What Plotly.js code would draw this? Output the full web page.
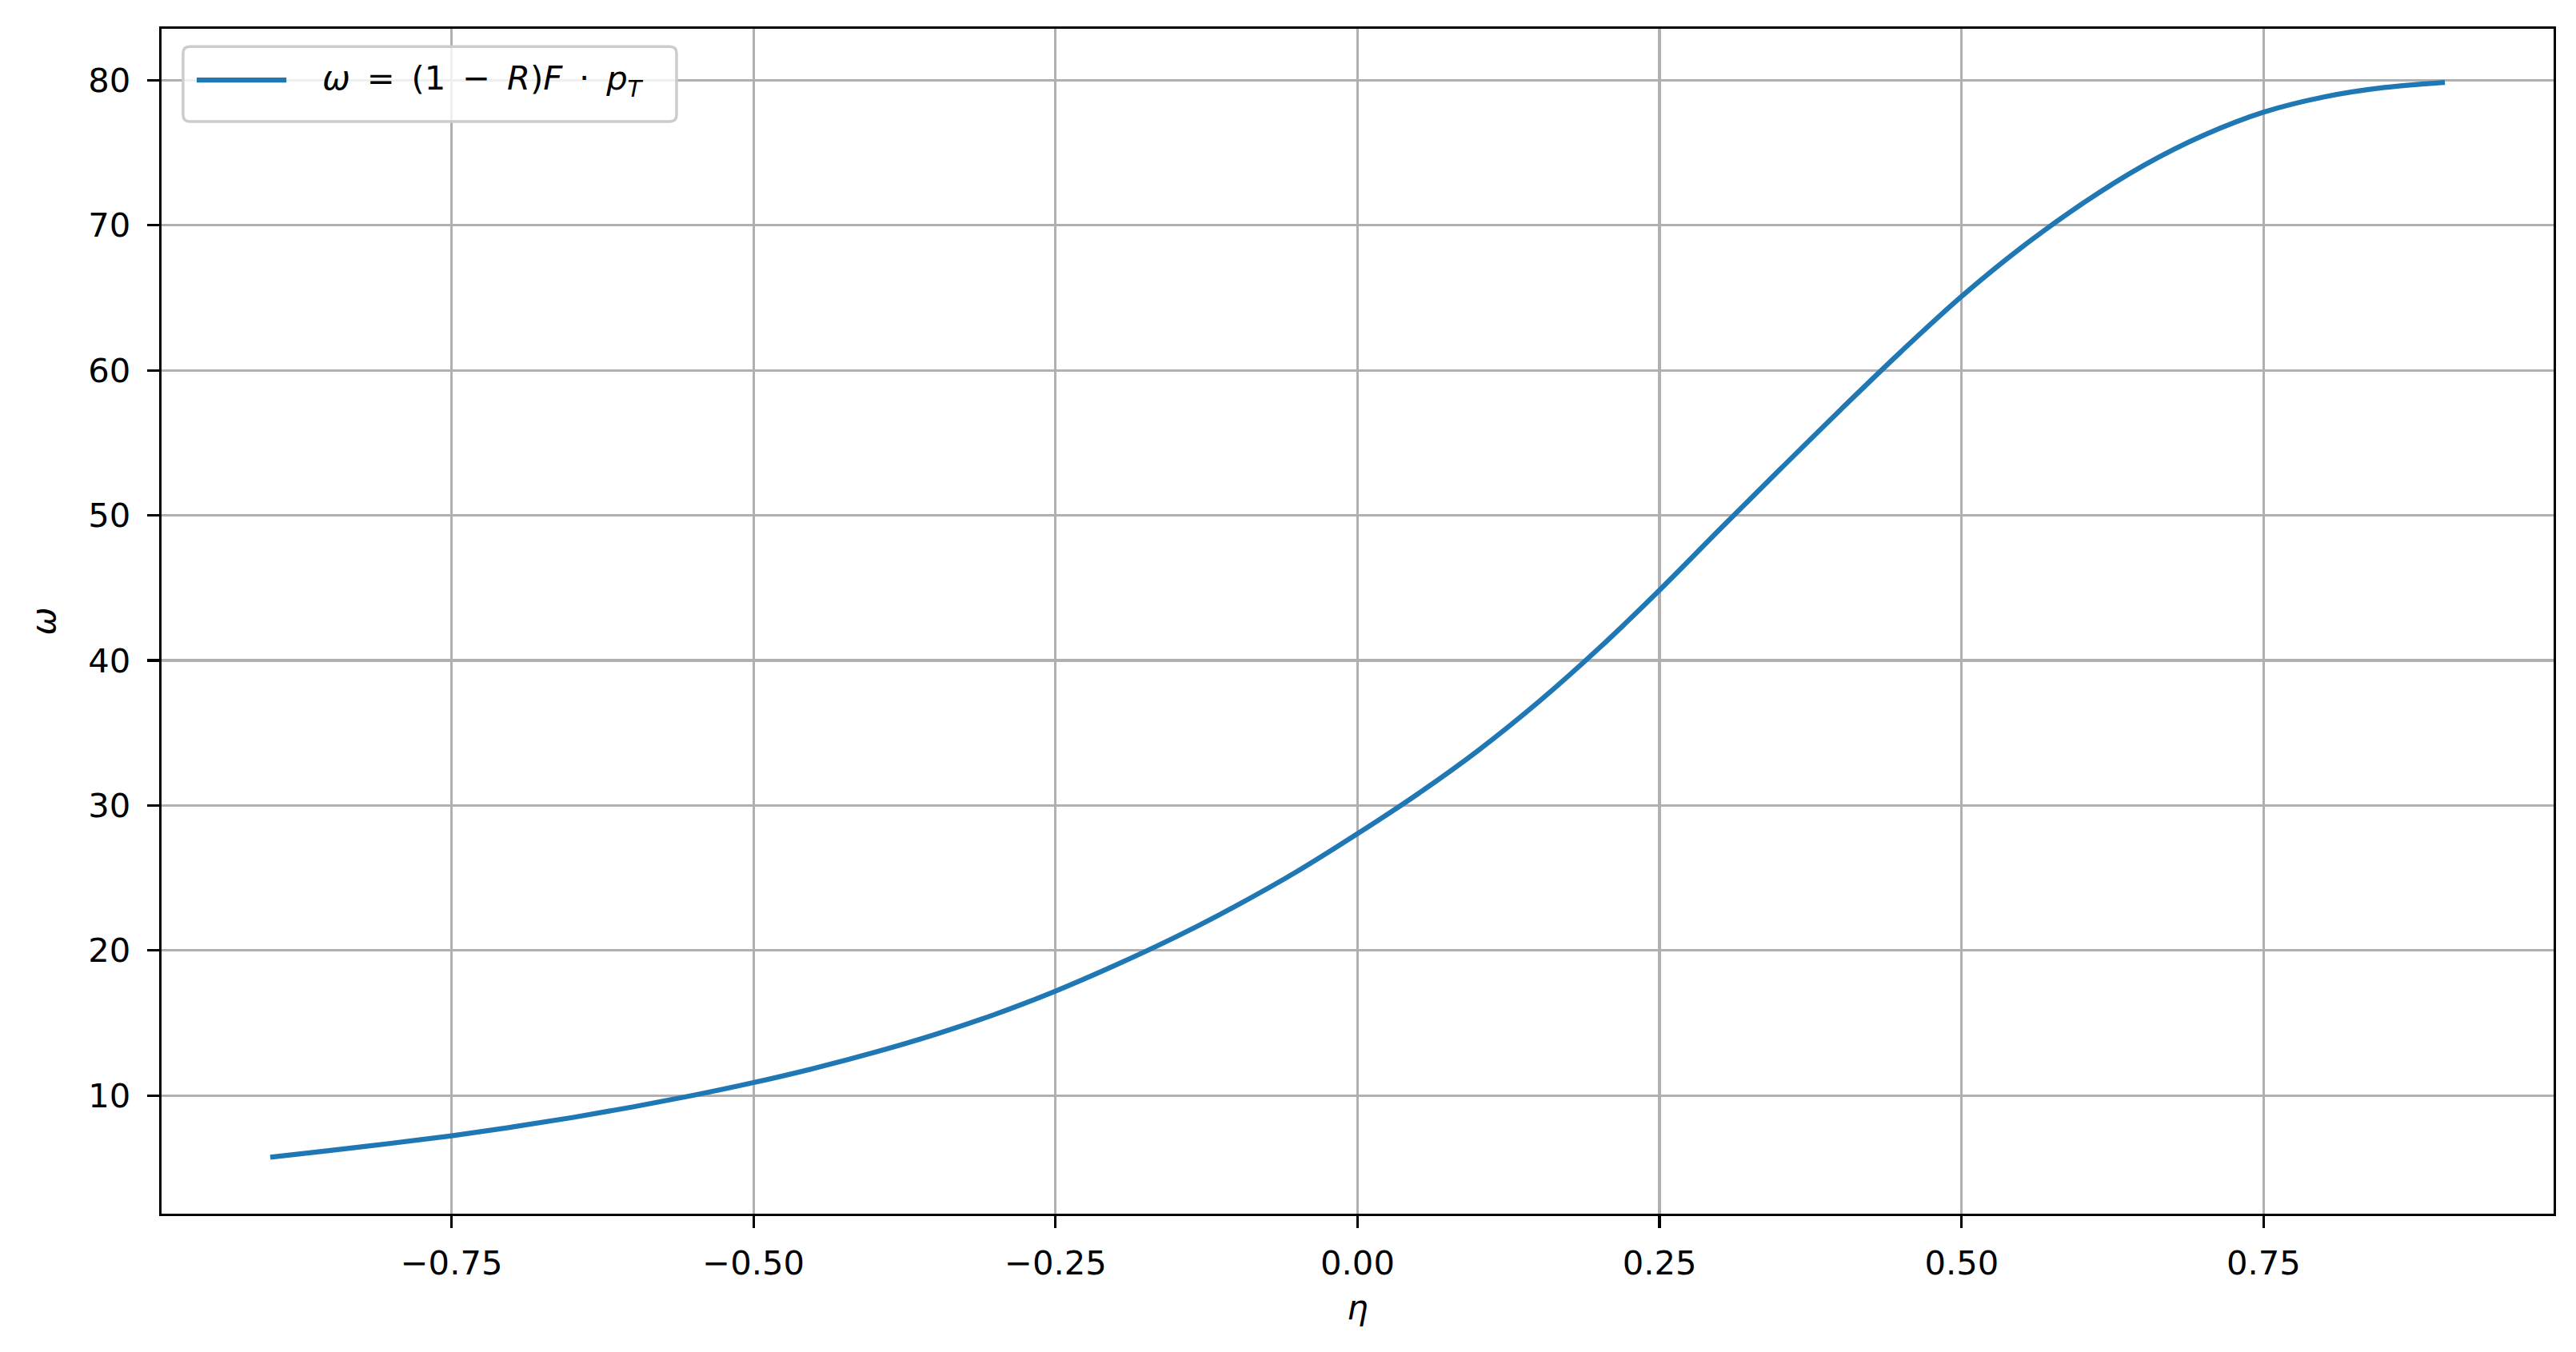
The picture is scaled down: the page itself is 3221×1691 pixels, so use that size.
<!DOCTYPE html>
<html>
<head>
<meta charset="utf-8">
<script src="https://cdn.plot.ly/plotly-3.0.1.min.js"></script>
<style>
  html, body { margin: 0; padding: 0; background: #ffffff; }
  #chart { width: 3221px; height: 1691px; }
</style>
</head>
<body>
<div id="chart"></div>
<script>
// ---- data ----
const eta = [-0.90, -0.85, -0.80, -0.75, -0.70, -0.65, -0.60, -0.55, -0.50, -0.45,
             -0.40, -0.35, -0.30, -0.25, -0.20, -0.15, -0.10, -0.05, 0.00, 0.05,
              0.10, 0.15, 0.20, 0.25, 0.30, 0.35, 0.40, 0.45, 0.50, 0.55,
              0.60, 0.65, 0.70, 0.75, 0.80, 0.85, 0.90];
const omega = [5.74, 6.21, 6.70, 7.22, 7.82, 8.48, 9.21, 10.01, 10.89, 11.87,
               12.97, 14.2, 15.6, 17.2, 19.0, 20.95, 23.1, 25.45, 28.05, 30.8,
               33.8, 37.15, 40.85, 44.85, 49.05, 53.2, 57.3, 61.3, 65.1, 68.5,
               71.5, 74.1, 76.2, 77.8, 78.85, 79.5, 79.85];
const xTickVals = [-0.75, -0.50, -0.25, 0.00, 0.25, 0.50, 0.75];
const xTickText = ['\u22120.75', '\u22120.50', '\u22120.25', '0.00', '0.25', '0.50', '0.75'];
const yTickVals = [10, 20, 30, 40, 50, 60, 70, 80];
const yTickText = ['10', '20', '30', '40', '50', '60', '70', '80'];
const seriesName = '<i>\u03c9</i>\u2002=\u2002(1\u2002\u2212\u2002<i>R</i>)<i>F</i>\u2002\u00b7\u2002<i>p</i><sub><i>T</i></sub>';

const FONT = 'DejaVu Sans, Liberation Sans, sans-serif';
const FS = 41.7;
const BLUE = '#1f77b4';

const trace = {
  x: eta, y: omega, type: 'scatter', mode: 'lines',
  name: seriesName, showlegend: false,
  line: { color: BLUE, width: 6.25, shape: 'spline', smoothing: 1.0 }
};

// legend box (drawn by hand to mimic matplotlib legend)
const bx0 = 0.009, bx1 = 0.2153, by0 = 0.9217, by1 = 0.985;
const rx = 0.0028, ry = 0.0057;
const boxPath = `M ${bx0+rx},${by0} L ${bx1-rx},${by0} Q ${bx1},${by0} ${bx1},${by0+ry} ` +
                `L ${bx1},${by1-ry} Q ${bx1},${by1} ${bx1-rx},${by1} L ${bx0+rx},${by1} ` +
                `Q ${bx0},${by1} ${bx0},${by1-ry} L ${bx0},${by0+ry} Q ${bx0},${by0} ${bx0+rx},${by0} Z`;

const layout = {
  width: 3221, height: 1691,
  paper_bgcolor: '#ffffff', plot_bgcolor: '#ffffff',
  margin: { l: 202, r: 28, t: 36, b: 173, pad: 0 },
  font: { family: FONT, size: FS, color: '#000000' },
  showlegend: false,
  xaxis: {
    range: [-0.99, 0.99],
    tickmode: 'array', tickvals: xTickVals, ticktext: xTickText,
    ticks: 'outside', ticklen: 15, tickwidth: 3.3, tickcolor: '#000000',
    ticklabelstandoff: 8,
    showline: true, linecolor: '#000000', linewidth: 3.3, mirror: true,
    showgrid: true, gridcolor: '#b0b0b0', gridwidth: 3.3,
    zeroline: false,
    tickfont: { family: FONT, size: FS, color: '#000000' },
    title: { text: '<i>\u03b7</i>', font: { family: FONT, size: FS, color: '#000000' }, standoff: 18 }
  },
  yaxis: {
    range: [1.85, 83.55],
    tickmode: 'array', tickvals: yTickVals, ticktext: yTickText,
    ticks: 'outside', ticklen: 15, tickwidth: 3.3, tickcolor: '#000000',
    ticklabelstandoff: 12,
    showline: true, linecolor: '#000000', linewidth: 3.3, mirror: true,
    showgrid: true, gridcolor: '#b0b0b0', gridwidth: 3.3,
    zeroline: false,
    tickfont: { family: FONT, size: FS, color: '#000000' },
    title: { text: '<i>\u03c9</i>', font: { family: FONT, size: FS, color: '#000000' }, standoff: 28 }
  },
  shapes: [
    { type: 'path', xref: 'paper', yref: 'paper', path: boxPath,
      fillcolor: 'rgba(255,255,255,0.8)', line: { color: '#cccccc', width: 3.5 }, layer: 'above' },
    { type: 'line', xref: 'paper', yref: 'paper', x0: 0.0147, x1: 0.0522, y0: 0.9568, y1: 0.9568,
      line: { color: BLUE, width: 6.25 }, layer: 'above' }
  ],
  annotations: [
    { xref: 'paper', yref: 'paper', x: 0.0665, y: 0.9568, xanchor: 'left', yanchor: 'middle',
      text: seriesName, showarrow: false,
      font: { family: FONT, size: FS, color: '#000000' } }
  ]
};

Plotly.newPlot('chart', [trace], layout, { displayModeBar: false, staticPlot: true });
</script>
</body>
</html>
